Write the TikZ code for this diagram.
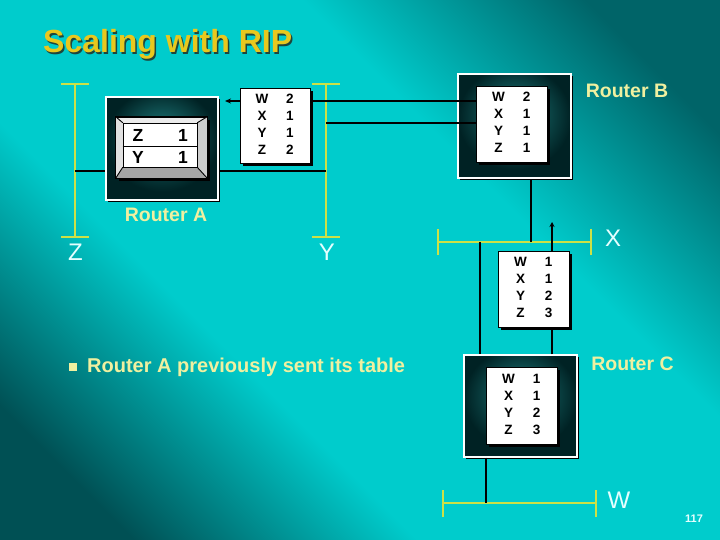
\documentclass[tikz,border=0pt]{standalone}
\usepackage{fontspec}
\setmainfont{Liberation Sans}
\usepackage{array}
\usetikzlibrary{arrows.meta,shadows,calc}
\definecolor{bgdark}{RGB}{0,80,84}
\definecolor{bgdarktr}{RGB}{0,100,104}
\definecolor{bgbright}{RGB}{0,204,204}
\definecolor{rinner}{RGB}{30,125,125}
\definecolor{routerc}{RGB}{0,34,36}
\definecolor{segcol}{RGB}{205,225,70}
\definecolor{titlecol}{RGB}{232,200,30}
\definecolor{titlesh}{RGB}{30,70,60}
\definecolor{labcol}{RGB}{240,240,160}
\definecolor{seglabcol}{RGB}{228,255,255}
\definecolor{bevtop}{RGB}{235,235,235}
\definecolor{bevleft}{RGB}{225,225,225}
\definecolor{bevright}{RGB}{205,205,205}
\definecolor{bevbot}{RGB}{165,165,165}
\pgfdeclareverticalshading{bgsh}{100bp}{color(0bp)=(bgdark); color(22bp)=(bgdark); color(38bp)=(bgbright); color(62bp)=(bgbright); color(78bp)=(bgdarktr); color(100bp)=(bgdarktr)}
\pgfdeclareradialshading{rsh}{\pgfpoint{0bp}{8bp}}{color(0bp)=(rinner); color(25bp)=(routerc); color(50bp)=(routerc)}
\newcommand{\rtab}[4]{\begin{tabular}{@{}w{c}{14pt}@{\hspace{16pt}}w{c}{10pt}@{}}W&#1\\X&#2\\Y&#3\\Z&#4\end{tabular}}
\begin{document}
\begin{tikzpicture}[x=1pt,y=-1pt,
  seg/.style={draw=segcol, line width=2.6pt},
  link/.style={draw=black, line width=2pt},
  routerbox/.style={draw=white, line width=1.4pt, shading=rsh, inner sep=0,
    drop shadow={fill=black, opacity=1, shadow xshift=2pt, shadow yshift=-2pt}},
  tablebox/.style={draw=black, fill=white, line width=0.9pt, inner sep=0,
    drop shadow={fill=black, opacity=1, shadow xshift=3pt, shadow yshift=-3pt},
    font=\fontsize{13.5}{17}\selectfont\bfseries},
  lab/.style={text=labcol, font=\fontsize{19.5}{23}\selectfont\bfseries, inner sep=0},
  seglab/.style={text=seglabcol, font=\fontsize{24}{28}\selectfont, inner sep=0},
  atext/.style={inner sep=0, font=\fontsize{17.5}{20}\selectfont\bfseries}
]
\useasboundingbox (0,0) rectangle (720,540);
\shade[shading=bgsh, shading angle=-45] (0,0) rectangle (720,540);

% title
\node[anchor=base west, inner sep=0, text=titlesh, font=\fontsize{32}{38}\selectfont\bfseries] (titleshadow) at (44.5,54.5) {Scaling with RIP};
\node[anchor=base west, inner sep=0, text=titlecol, font=\fontsize{32}{38}\selectfont\bfseries] (title) at (43,53) {Scaling with RIP};

% segments
\draw[seg] (75,84) -- (75,237);
\draw[seg] (61,84) -- (89,84);
\draw[seg] (61,237) -- (89,237);
\draw[seg] (326,84) -- (326,237);
\draw[seg] (312,84) -- (340,84);
\draw[seg] (312,237) -- (340,237);
\draw[seg] (438,242) -- (591,242);
\draw[seg] (438,229) -- (438,255);
\draw[seg] (591,229) -- (591,255);
\draw[seg] (443,503) -- (596,503);
\draw[seg] (443,490) -- (443,517);
\draw[seg] (596,490) -- (596,517);

% routers (outer boxes)
\node[routerbox, minimum width=112pt, minimum height=103pt] (rA) at (162,148.5) {};
\node[routerbox, minimum width=113pt, minimum height=104pt] (rB) at (514.5,126) {};
\node[routerbox, minimum width=113pt, minimum height=102pt] (rC) at (520.5,406) {};

% connector end points
\coordinate (zc) at (75,171);
\coordinate (yc) at (326,171);
\coordinate (yb) at (326,123);
\coordinate (arrA) at (225,101);
\coordinate (xb) at (531,242);
\coordinate (xc) at (480,242);
\coordinate (arrC) at (552,222);
\coordinate (wc) at (486,503);

% placeholder for router B's table edge
\node[inner sep=0, minimum width=71pt, minimum height=76pt] (rBin0) at (511.5,124) {};

% connectors
\draw[link] (zc) -- (zc -| rA.west);
\draw[link] (yc) -- (yc -| rA.east);
\draw[link, -{Stealth[length=6pt,width=5pt]}] (arrA -| rBin0.west) -- (arrA);
\draw[link] (yb) -- (yb -| rBin0.west);
\draw[link] (xb) -- (xb |- rB.south);
\draw[link] (xc) -- (xc |- rC.north);
\draw[link, -{Stealth[length=5pt,width=5pt]}] (arrC |- rC.north) -- (arrC);
\draw[link] (wc |- rC.south) -- (wc);

% tables
\node[tablebox, minimum width=70pt, minimum height=75pt] (tA) at (275,125.5) {\rtab{2}{1}{1}{2}};
\node[tablebox, minimum width=71pt, minimum height=76pt] (rBin) at (511.5,124) {\rtab{2}{1}{1}{1}};
\node[tablebox, minimum width=71pt, minimum height=76pt] (tC) at (533.5,289) {\rtab{1}{1}{2}{3}};
\node[tablebox, minimum width=71pt, minimum height=77pt] (rCin) at (521.5,405.5) {\rtab{1}{1}{2}{3}};

% router A bevelled table
\node[draw=black, fill=bevtop, line width=0.9pt, inner sep=0, minimum width=91pt, minimum height=61pt,
  drop shadow={fill=black, opacity=1, shadow xshift=3pt, shadow yshift=-3pt}] (bevA) at (161.5,147.5) {};
\node[inner sep=0, minimum width=74pt, minimum height=44pt] (faceA0) at (160,145) {};
\fill[bevleft] (bevA.north west) -- (faceA0.north west) -- (faceA0.south west) -- (bevA.south west) -- cycle;
\fill[bevright] (bevA.north east) -- (faceA0.north east) -- (faceA0.south east) -- (bevA.south east) -- cycle;
\fill[bevbot] (bevA.south west) -- (faceA0.south west) -- (faceA0.south east) -- (bevA.south east) -- cycle;
\draw[black, line width=0.9pt] (bevA.north west) -- (faceA0.north west)
  (bevA.north east) -- (faceA0.north east)
  (bevA.south west) -- (faceA0.south west)
  (bevA.south east) -- (faceA0.south east);
\draw[black, line width=0.9pt] (bevA.north west) rectangle (bevA.south east);
\node[draw=black, fill=white, line width=0.9pt, inner sep=0, minimum width=74pt, minimum height=44pt] (faceA) at (160,145) {};
\draw[black, line width=0.9pt] ($(faceA.west)+(0,1)$) -- ($(faceA.east)+(0,1)$);
\node[atext] (az) at (138,135.5) {Z};
\node[atext] (az1) at (183,135.5) {1};
\node[atext] (ay) at (138,157.5) {Y};
\node[atext] (ay1) at (183,157.5) {1};

% labels
\node[lab] (labA) at (166,214.5) {Router A};
\node[lab] (labB) at (627,90.5) {Router B};
\node[lab] (labC) at (632.5,364) {Router C};
\node[seglab] (lz) at (75.5,252.5) {Z};
\node[seglab] (ly) at (327,252.5) {Y};
\node[seglab] (lx) at (613,238.5) {X};
\node[seglab] (lw) at (619,500) {W};

% bullet
\node[fill=labcol, inner sep=0, minimum size=8pt] (bullet) at (73,366.5) {};
\node[anchor=base west, inner sep=0, text=labcol, font=\fontsize{20}{24}\selectfont\bfseries] (btext) at (87,372) {Router A previously sent its table};

% page number
\node[inner sep=0, text=seglabcol, font=\fontsize{11}{13}\selectfont\bfseries] (pnum) at (694,518.5) {117};
\end{tikzpicture}
\end{document}
